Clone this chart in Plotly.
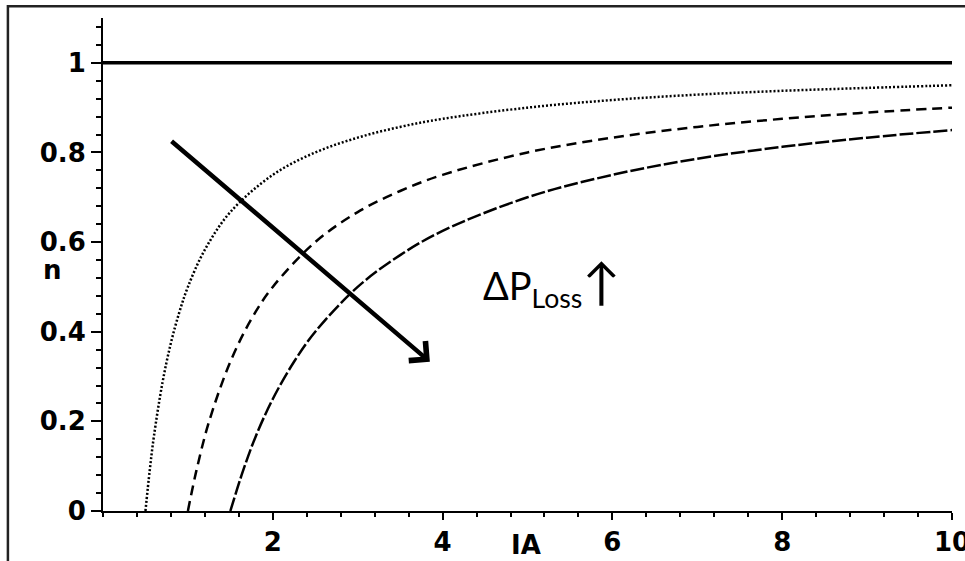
import plotly.graph_objects as go

# Data (IA vs efficiency n)
ia_dot = [0.5, 0.55, 0.6, 0.7, 0.8, 0.9, 1.0, 1.2, 1.5, 2.0, 2.5, 3.0, 3.5, 4.0, 5.0, 6.0, 7.0, 8.0, 9.0, 10.0]
n_dot = [0.0, 0.09, 0.167, 0.286, 0.375, 0.444, 0.5, 0.583, 0.667, 0.75, 0.8, 0.833, 0.857, 0.875, 0.9, 0.917, 0.929, 0.9375, 0.944, 0.95]

ia_dash = [1.0, 1.1, 1.25, 1.5, 1.75, 2.0, 2.5, 3.0, 3.5, 4.0, 5.0, 6.0, 7.0, 8.0, 9.0, 10.0]
n_dash = [0.0, 0.09, 0.2, 0.333, 0.429, 0.5, 0.6, 0.667, 0.714, 0.75, 0.8, 0.833, 0.857, 0.875, 0.889, 0.9]

ia_long = [1.5, 1.65, 1.8, 2.0, 2.25, 2.5, 3.0, 3.5, 4.0, 5.0, 6.0, 7.0, 8.0, 9.0, 10.0]
n_long = [0.0, 0.09, 0.167, 0.25, 0.333, 0.4, 0.5, 0.571, 0.625, 0.7, 0.75, 0.786, 0.8125, 0.833, 0.85]

ia_ideal = [0.0, 10.0]
n_ideal = [1.0, 1.0]

x_ticks = [2, 4, 6, 8, 10]
y_ticks = [0, 0.2, 0.4, 0.6, 0.8, 1]
y_tick_text = ["0", "0.2", "0.4", "0.6", "0.8", "1"]

tickfont = dict(family="DejaVu Sans", size=26, color="black", weight="bold")

fig = go.Figure()
fig.add_trace(go.Scatter(x=ia_ideal, y=n_ideal, mode="lines",
                         line=dict(color="black", width=3.5), cliponaxis=False))
fig.add_trace(go.Scatter(x=ia_dot, y=n_dot, mode="lines", line_shape="spline",
                         line=dict(color="black", width=2.5, dash="2px,2px")))
fig.add_trace(go.Scatter(x=ia_dash, y=n_dash, mode="lines", line_shape="spline",
                         line=dict(color="black", width=2.5, dash="10px,6px")))
fig.add_trace(go.Scatter(x=ia_long, y=n_long, mode="lines", line_shape="spline",
                         line=dict(color="black", width=2.5, dash="14px,3px")))

fig.update_layout(
    width=965, height=561,
    margin=dict(l=103, r=13, t=18, b=50),
    paper_bgcolor="white", plot_bgcolor="white",
    showlegend=False,
    xaxis=dict(range=[0, 10], showgrid=False, zeroline=False, automargin=False,
               showline=True, linecolor="black", linewidth=2,
               ticks="outside", ticklen=7, tickwidth=2, tickcolor="black",
               tickvals=x_ticks, ticktext=[str(v) for v in x_ticks],
               tickfont=tickfont, ticklabeloverflow="allow",
               minor=dict(dtick=0.4, tick0=0, ticks="outside", ticklen=4,
                          tickwidth=2, tickcolor="black", showgrid=False)),
    yaxis=dict(range=[0, 1.1], showgrid=False, zeroline=False, automargin=False,
               showline=True, linecolor="black", linewidth=2,
               ticks="outside", ticklen=10, tickwidth=2, tickcolor="black",
               tickvals=y_ticks, ticktext=y_tick_text,
               tickfont=tickfont, ticklabeloverflow="allow",
               minor=dict(dtick=0.04, tick0=0, ticks="outside", ticklen=5,
                          tickwidth=2, tickcolor="black", showgrid=False)),
)

# Outer frame of the figure
fig.add_shape(type="rect", xref="paper", yref="paper",
              x0=-0.112, y0=-0.3, x1=1.2, y1=1.024,
              line=dict(color="#222222", width=2.5), layer="above")

# Axis labels
fig.add_annotation(x=(52 - 103) / 849, y=(511 - 270) / 493, xref="paper", yref="paper",
                   text="n", showarrow=False, font=tickfont,
                   xanchor="center", yanchor="middle")
fig.add_annotation(x=(526 - 103) / 849, y=(511 - 545) / 493, xref="paper", yref="paper",
                   text="IA", showarrow=False, font=tickfont,
                   xanchor="center", yanchor="middle")

# Arrow indicating increasing loss
fig.add_annotation(x=3.85, y=0.333, ax=0.79, ay=0.828, xref="x", yref="y",
                   axref="x", ayref="y", text="", showarrow=True,
                   arrowhead=4, arrowsize=1.1, arrowwidth=4.5, arrowcolor="black")
fig.add_annotation(x=4.45, y=0.51, xref="x", yref="y",
                   text="ΔP<sub>Loss</sub><span style='font-size:50px'>↑</span>",
                   showarrow=False,
                   xanchor="left", yanchor="middle",
                   font=dict(family="Lato", size=38, color="black"))

fig.write_html("out.html", config={"displayModeBar": False},
               post_script="document.body.style.margin='0';")
